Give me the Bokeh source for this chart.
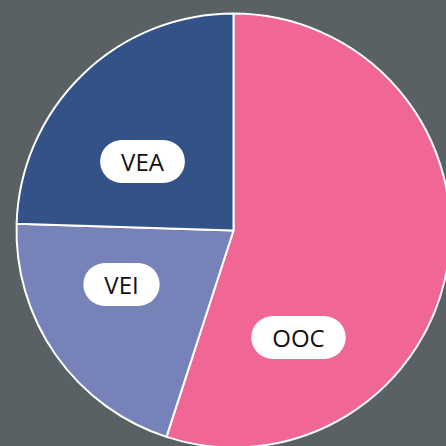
from math import pi
from bokeh.plotting import figure
from bokeh.models import Range1d, ColumnDataSource
from bokeh.core.properties import value
from bokeh.embed import file_html
from bokeh.resources import INLINE

# data
categories = ["OOC", "VEI", "VEA"]
shares = [55.0, 20.5, 24.5]
colors = ["#f06695", "#7682b8", "#335287"]

# label placement (figure pixel coordinates, y up)
label_x = [298, 121, 142]
label_y = [109, 162, 285]

BG = "#596164"
W = H = 446
cx, cy, r = 233, 216, 217

total = sum(shares)
starts, ends = [], []
acc = 0.0
for s in shares:
    starts.append(pi / 2 - acc / total * 2 * pi)
    acc += s
    ends.append(pi / 2 - acc / total * 2 * pi)

src = ColumnDataSource(dict(cat=categories, start=starts, end=ends, color=colors,
                            lx=label_x, ly=label_y))

p = figure(width=W, height=H, output_backend="svg", toolbar_location=None,
           x_range=Range1d(0, W), y_range=Range1d(0, H), min_border=0)
p.axis.visible = False
p.grid.visible = False
p.outline_line_color = None
p.background_fill_color = BG
p.border_fill_color = BG

p.wedge(x=cx, y=cy, radius=r, start_angle="start", end_angle="end", direction="clock",
        fill_color="color", line_color="white", line_width=2, source=src)

p.text(x="lx", y="ly", text="cat", source=src, text_align="center", text_baseline="middle",
       text_font=value("Open Sans"), text_font_size="24px", text_color="#111111",
       background_fill_color="white", border_radius=30,
       padding=dict(left=21, right=21, top=5, bottom=5))

html = file_html(p, INLINE)
html = html.replace("<head>", "<head><style>html,body{margin:0;padding:0;background:%s;overflow:hidden}</style>" % BG, 1)
open("out.html", "w").write(html)
